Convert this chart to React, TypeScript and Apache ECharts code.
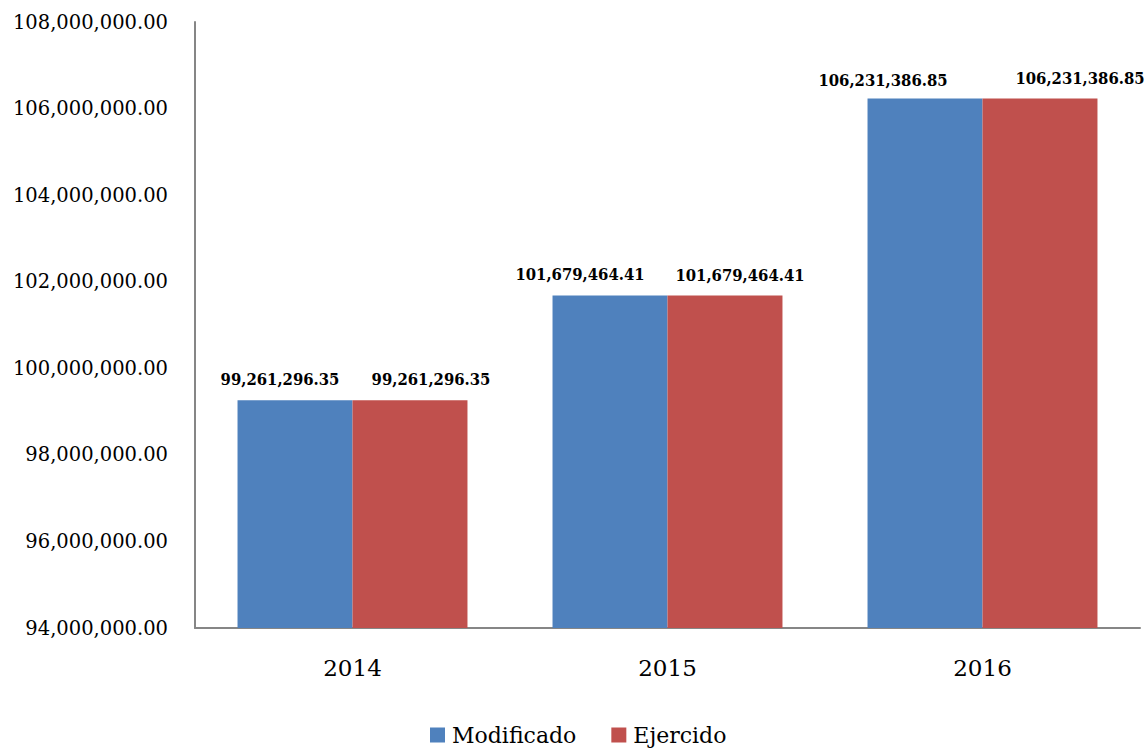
import React, { useEffect, useRef } from "react";
import * as echarts from "echarts";

const categories = ["2014", "2015", "2016"];
const modificado = [99261296.35, 101679464.41, 106231386.85];
const ejercido = [99261296.35, 101679464.41, 106231386.85];
const seriesNames = ["Modificado", "Ejercido"];

const fmt = (v: number) =>
  v.toLocaleString("en-US", { minimumFractionDigits: 2, maximumFractionDigits: 2 });

export default function App() {
  const ref = useRef<HTMLDivElement>(null);
  useEffect(() => {
    document.body.style.margin = "0";
    const chart = echarts.init(ref.current!, null, { renderer: "svg" });
    // label nudges (style), as in the reference layout
    const shiftA = [[-15, 0], [-30, -1], [-42, 2]];
    const shiftB = [[21, 0], [15, 0], [40, 0]];
    const baseLabel = {
      show: true,
      position: "top" as const,
      distance: 12,
      fontFamily: "'DejaVu Serif Condensed', 'DejaVu Serif'",
      fontWeight: "bold" as const,
      fontSize: 16.5,
      color: "#000",
      formatter: (p: any) => fmt(p.value),
    };
    const build = (vals: number[], shifts: number[][]) =>
      vals.map((v, i) => ({ value: v, label: { offset: shifts[i] } }));
    chart.setOption({
      animation: false,
      grid: { left: 195, right: 7, top: 22, bottom: 120 },
      legend: {
        top: 724,
        left: 430,
        padding: 0,
        itemWidth: 15,
        itemHeight: 15,
        itemGap: 35,
        icon: "rect",
        textStyle: { fontFamily: "DejaVu Serif", fontSize: 22, color: "#000", padding: [0, 0, 0, 2] },
        data: seriesNames,
      },
      xAxis: {
        type: "category",
        data: categories,
        axisLine: { lineStyle: { color: "#868686", width: 2 } },
        axisTick: { show: false },
        axisLabel: { fontFamily: "DejaVu Serif", fontSize: 23, color: "#000", margin: 28 },
      },
      yAxis: {
        type: "value",
        min: 94000000,
        max: 108000000,
        interval: 2000000,
        axisLine: { show: true, lineStyle: { color: "#868686", width: 2 } },
        axisTick: { show: false },
        splitLine: { show: false },
        axisLabel: {
          fontFamily: "DejaVu Serif",
          fontSize: 19.5,
          color: "#000",
          margin: 27,
          formatter: (v: number) => fmt(v),
        },
      },
      series: [
        {
          name: seriesNames[0],
          type: "bar",
          data: build(modificado, shiftA),
          barGap: "0%",
          barCategoryGap: "27%",
          itemStyle: { color: "#4F81BD" },
          label: baseLabel,
        },
        {
          name: seriesNames[1],
          type: "bar",
          data: build(ejercido, shiftB),
          barGap: "0%",
          barCategoryGap: "27%",
          itemStyle: { color: "#C0504D" },
          label: baseLabel,
        },
      ],
    });
    return () => chart.dispose();
  }, []);
  return <div ref={ref} style={{ width: 1147, height: 748 }} />;
}
